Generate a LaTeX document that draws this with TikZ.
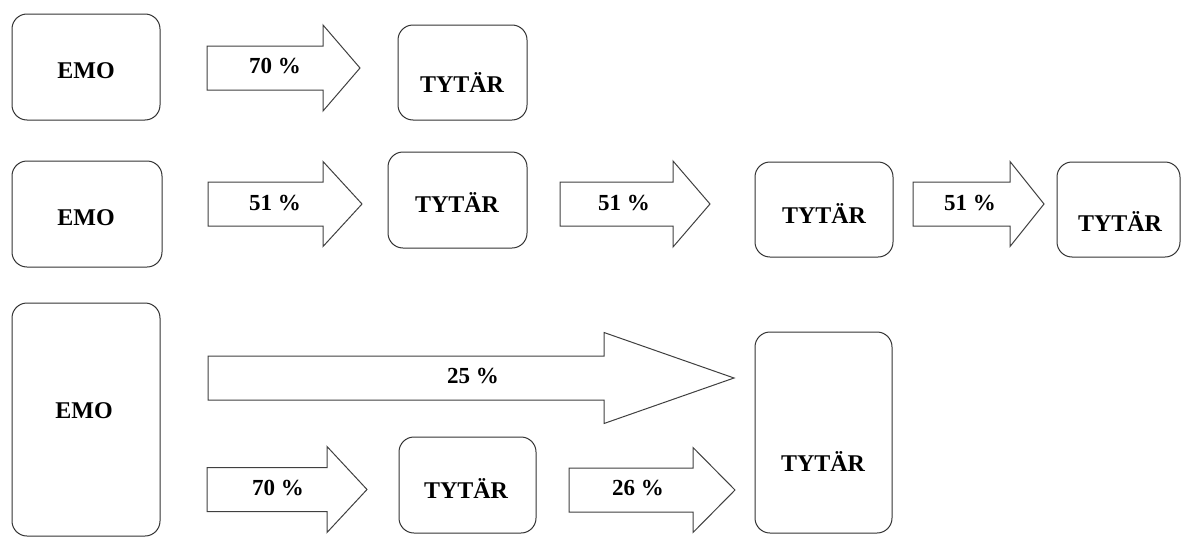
\documentclass[tikz,border=0pt]{standalone}
\usepackage{fontspec}
\setmainfont{Liberation Serif}
% block arrow: tail x, head base x, tip x, centre y, head half width
\newcommand{\blockarrow}[5]{%
  \draw[barrow] (#1,#4-22) -- (#2,#4-22) -- (#2,#4-#5) -- (#3,#4) -- (#2,#4+#5) -- (#2,#4+22) -- (#1,#4+22) -- cycle;}
\begin{document}
\begin{tikzpicture}[x=1pt,y=-1pt, every node/.style={font=\bfseries\fontsize{24}{28}\selectfont}]
  \tikzstyle{box}=[draw=black!80,line width=1pt,rounded corners=15pt,inner sep=0pt]
  \tikzstyle{barrow}=[draw=black!75,line width=1pt,fill=white]
  \tikzstyle{txt}=[anchor=base,inner sep=0pt]
  \tikzstyle{pct}=[anchor=base,inner sep=0pt,font=\bfseries\fontsize{23}{27}\selectfont]
  \useasboundingbox (0,0) rectangle (1182,538);
  % row 1
  \node[box,minimum width=148pt,minimum height=106pt] (emoA) at (86,67) {};
  \node[box,minimum width=129pt,minimum height=95pt] (tytA) at (462.5,72.5) {};
  \node[txt] (emoAtxt) at (86,78) {EMO};
  \node[txt] (tytAtxt) at (462,92) {TYTÄR};
  \blockarrow{207}{323}{360}{68}{43}
  \node[pct] (pA) at (275,73) {70 \%};
  % row 2
  \node[box,minimum width=150pt,minimum height=106pt] (emoB) at (87,214) {};
  \node[box,minimum width=139pt,minimum height=96pt] (tytB) at (457.5,200) {};
  \node[box,minimum width=138pt,minimum height=95pt] (tytC) at (824,209.5) {};
  \node[box,minimum width=123pt,minimum height=95pt] (tytD) at (1118.5,209.5) {};
  \node[txt] (emoBtxt) at (86,225) {EMO};
  \node[txt] (tytBtxt) at (457,212) {TYTÄR};
  \node[txt] (tytCtxt) at (824,223) {TYTÄR};
  \node[txt] (tytDtxt) at (1120,231) {TYTÄR};
  \blockarrow{208}{323}{362}{204}{42.5}
  \blockarrow{560}{673}{710}{204}{43}
  \blockarrow{913}{1010}{1044}{204}{42.5}
  \node[pct] (pB) at (275,210) {51 \%};
  \node[pct] (pC) at (624,210) {51 \%};
  \node[pct] (pD) at (970,210) {51 \%};
  % row 3
  \node[box,minimum width=148pt,minimum height=233pt] (emoC) at (86,419.5) {};
  \node[box,minimum width=137pt,minimum height=96pt] (tytE) at (467.5,485) {};
  \node[box,minimum width=137pt,minimum height=201pt] (tytF) at (823.5,432.5) {};
  \node[txt] (emoCtxt) at (84,418) {EMO};
  \node[txt] (tytEtxt) at (466,498) {TYTÄR};
  \node[txt] (tytFtxt) at (823,471) {TYTÄR};
  \blockarrow{208}{604}{734}{378}{45.5}
  \blockarrow{207}{327}{367}{489.5}{43}
  \blockarrow{569}{693}{735}{490}{42.5}
  \node[pct] (pE) at (473,383) {25 \%};
  \node[pct] (pF) at (278,495) {70 \%};
  \node[pct] (pG) at (638,495) {26 \%};
\end{tikzpicture}
\end{document}
